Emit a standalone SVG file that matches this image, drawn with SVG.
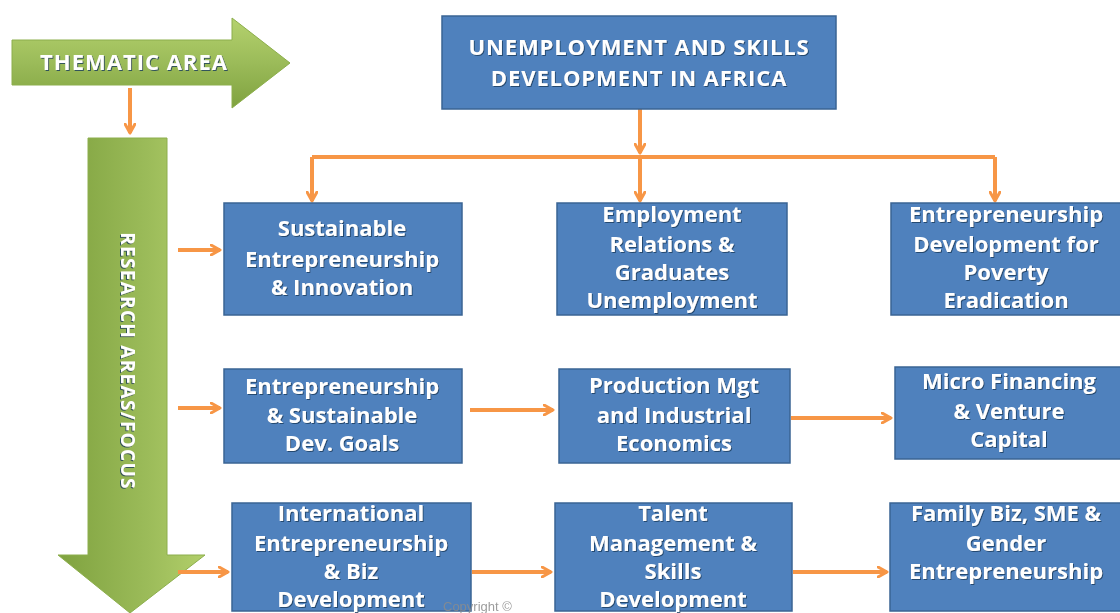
<svg xmlns="http://www.w3.org/2000/svg" width="1120" height="613" viewBox="0 0 1120 613">
<defs>
<linearGradient id="gh" x1="0" y1="0" x2="0" y2="1">
<stop offset="0" stop-color="#B5D26E"/><stop offset="0.5" stop-color="#9BBB59"/><stop offset="1" stop-color="#7FA23F"/>
</linearGradient>
<linearGradient id="gv" x1="0" y1="0" x2="1" y2="0">
<stop offset="0" stop-color="#7FA23F"/><stop offset="0.6" stop-color="#9BBB59"/><stop offset="1" stop-color="#B2CF6A"/>
</linearGradient>
<marker id="ah" viewBox="0 0 12 12" refX="10" refY="6" markerWidth="12" markerHeight="12" markerUnits="userSpaceOnUse" orient="auto">
<path d="M1,1 L10,6 L1,11" fill="none" stroke="#F79646" stroke-width="3" stroke-linecap="round" stroke-linejoin="round"/>
</marker>
<filter id="sh" x="-5%" y="-5%" width="110%" height="110%">
<feDropShadow dx="1" dy="1" stdDeviation="0.6" flood-color="#1F3A5C" flood-opacity="0.8"/>
</filter>
</defs>
<style>
.box{fill:#4F81BD;stroke:#3A6494;stroke-width:1.5}
.t{font-family:"Open Sans","Liberation Sans",Arial,sans-serif;font-weight:bold;font-size:22px;fill:#FFFFFF;text-anchor:middle;filter:url(#sh)}
.c{fill:none;stroke:#F79646;stroke-width:4}
.ca{fill:none;stroke:#F79646;stroke-width:4;marker-end:url(#ah)}
.g{font-family:"Open Sans","Liberation Sans",Arial,sans-serif;font-weight:bold;fill:#FFFFFF;text-anchor:middle;filter:url(#sh)}
</style>
<rect width="1120" height="613" fill="#FFFFFF"/>

<g id="thematic-area">
<path d="M12,40 L232,40 L232,18 L290,63 L232,108 L232,85 L12,85 Z" fill="url(#gh)" stroke="#8CAE4C" stroke-width="1"/>
<text class="g" x="134" y="70" font-size="22" letter-spacing="1">THEMATIC AREA</text>
</g>

<g id="research-areas">
<path d="M88,138 L167,138 L167,555 L205,555 L130,613 L58,555 L88,555 Z" fill="url(#gv)" stroke="#8CAE4C" stroke-width="1"/>
<text class="g" font-size="19" letter-spacing="1.3" transform="translate(121,361) rotate(90)">RESEARCH AREAS/FOCUS</text>
</g>

<g id="connectors">
<path class="ca" d="M130,88 L130,133"/>
<path class="ca" d="M640,109 L640,153"/>
<path class="c" d="M312,157 L995,157"/>
<path class="ca" d="M312,157 L312,201"/>
<path class="ca" d="M640,157 L640,201"/>
<path class="ca" d="M995,157 L995,201"/>
<path class="ca" d="M178,250 L220,250"/>
<path class="ca" d="M178,408 L220,408"/>
<path class="ca" d="M178,572 L228,572"/>
<path class="ca" d="M470,410 L553,410"/>
<path class="ca" d="M791,418 L891,418"/>
<path class="ca" d="M472,572 L551,572"/>
<path class="ca" d="M793,572 L887,572"/>
</g>

<g id="unemployment">
<rect class="box" x="442" y="16" width="394" height="93"/>
<text class="t" font-size="23" letter-spacing="0.9" x="639" y="55">UNEMPLOYMENT AND SKILLS</text>
<text class="t" font-size="23" letter-spacing="0.9" x="639" y="86">DEVELOPMENT IN AFRICA</text>
</g>

<g id="sustainable-entrepreneurship">
<rect class="box" x="224" y="203" width="238" height="112"/>
<text class="t" x="342" y="236">Sustainable</text>
<text class="t" x="342" y="267">Entrepreneurship</text>
<text class="t" x="342" y="295">&amp; Innovation</text>
</g>

<g id="employment-relations">
<rect class="box" x="557" y="203" width="230" height="112"/>
<text class="t" x="672" y="222">Employment</text>
<text class="t" x="672" y="252">Relations &amp;</text>
<text class="t" x="672" y="280">Graduates</text>
<text class="t" x="672" y="308">Unemployment</text>
</g>

<g id="poverty-eradication">
<rect class="box" x="891" y="203" width="232" height="112"/>
<text class="t" x="1006" y="222">Entrepreneurship</text>
<text class="t" x="1006" y="252">Development for</text>
<text class="t" x="1006" y="280">Poverty</text>
<text class="t" x="1006" y="308">Eradication</text>
</g>

<g id="sustainable-dev-goals">
<rect class="box" x="224" y="369" width="238" height="94"/>
<text class="t" x="342" y="394">Entrepreneurship</text>
<text class="t" x="342" y="423">&amp; Sustainable</text>
<text class="t" x="342" y="451">Dev. Goals</text>
</g>

<g id="production-mgt">
<rect class="box" x="559" y="369" width="231" height="94"/>
<text class="t" x="674" y="393">Production  Mgt</text>
<text class="t" x="674" y="423">and Industrial</text>
<text class="t" x="674" y="451">Economics</text>
</g>

<g id="micro-financing">
<rect class="box" x="895" y="367" width="228" height="92"/>
<text class="t" x="1009" y="389">Micro  Financing</text>
<text class="t" x="1009" y="419">&amp; Venture</text>
<text class="t" x="1009" y="447">Capital</text>
</g>

<g id="international-entrepreneurship">
<rect class="box" x="232" y="503" width="239" height="108"/>
<text class="t" x="351" y="521">International</text>
<text class="t" x="351" y="551">Entrepreneurship</text>
<text class="t" x="351" y="579">&amp; Biz</text>
<text class="t" x="351" y="607">Development</text>
</g>

<g id="copyright">
<text x="443" y="611" font-family="Liberation Sans,Arial,sans-serif" font-size="13" fill="#8C8C8C" opacity="0.85">Copyright ©</text>
</g>

<g id="talent-management">
<rect class="box" x="555" y="503" width="237" height="108"/>
<text class="t" x="673" y="521">Talent</text>
<text class="t" x="673" y="551">Management &amp;</text>
<text class="t" x="673" y="579">Skills</text>
<text class="t" x="673" y="607">Development</text>
</g>

<g id="family-biz">
<rect class="box" x="890" y="503" width="233" height="108"/>
<text class="t" x="1006" y="521">Family Biz, SME &amp;</text>
<text class="t" x="1006" y="551">Gender</text>
<text class="t" x="1006" y="579">Entrepreneurship</text>
</g>
</svg>
